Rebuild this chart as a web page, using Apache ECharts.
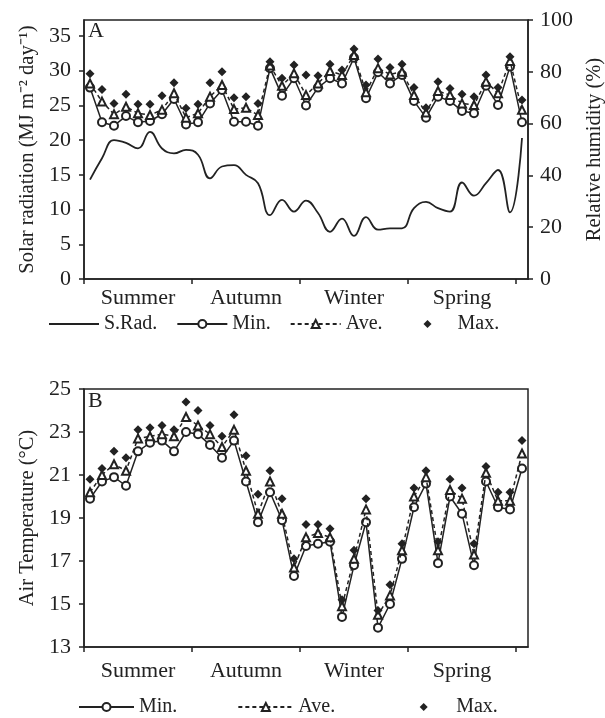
<!DOCTYPE html>
<html lang="en">
<head>
    <meta charset="UTF-8">
    <title>Solar radiation, humidity and air temperature</title>
    <script src="https://cdn.jsdelivr.net/npm/echarts@6/dist/echarts.min.js"></script>
    <style>
        html,
        body {
            margin: 0;
            height: 100%;
            background: #fff;
        }
        #main {
            width: 605px;
            height: 718px;
        }
    </style>
</head>
<body>
    <div id="main"></div>
    <script type="text/javascript">
        const chart = echarts.init(document.getElementById('main'));

        // weekly records, 9 per season + one extra
        const weeks = [1, 2, 3, 4, 5, 6, 7, 8, 9, 10, 11, 12, 13, 14, 15, 16, 17, 18, 19,
            20, 21, 22, 23, 24, 25, 26, 27, 28, 29, 30, 31, 32, 33, 34, 35, 36, 37];
        const seasons = ['Summer', 'Autumn', 'Winter', 'Spring'];
        const seasonLabelAt = [5, 14, 23, 32];
        const seasonTickAt = [0.5, 9.5, 18.5, 27.5, 36.5];
        const solarTicks = [0, 5, 10, 15, 20, 25, 30, 35];

        const solarRad = [14.3, 17.4, 20.0, 19.6, 18.8, 21.2, 18.8, 18.1, 18.6, 17.9, 14.5, 16.2, 16.4,
            15.0, 13.8, 9.2, 11.4, 9.7, 11.3, 9.5, 6.8, 8.7, 6.2, 8.9, 7.1, 7.3, 7.3, 10.2, 11.1,
            10.2, 9.7, 13.9, 12.0, 13.8, 15.7, 9.6, 20.3];
        const rhMin = [73.9, 60.5, 59.2, 62.9, 60.5, 61.0, 63.6, 69.5, 59.7, 60.5, 67.8, 73.0, 60.7,
            60.7, 59.2, 81.4, 70.8, 77.5, 67.0, 73.9, 77.5, 75.5, 85.4, 69.8, 79.8, 75.5, 78.8, 68.7,
            62.3, 70.4, 68.7, 64.9, 64.0, 74.6, 67.2, 82.0, 60.5];
        const rhAve = [75.5, 68.5, 63.6, 66.5, 64.0, 63.3, 65.3, 71.7, 62.3, 64.0, 70.4, 74.9, 65.6,
            66.1, 63.3, 82.4, 74.6, 79.4, 71.0, 75.5, 80.3, 78.8, 86.5, 72.1, 81.4, 79.0, 80.0, 71.0,
            64.3, 72.6, 71.0, 67.8, 67.2, 76.2, 71.7, 84.2, 65.3];
        const rhMax = [79.2, 73.2, 67.8, 71.3, 67.5, 67.5, 70.8, 75.8, 65.9, 67.5, 75.8, 80.0, 70.0,
            70.4, 67.8, 83.9, 77.5, 82.6, 78.8, 78.5, 82.9, 80.7, 88.8, 74.9, 84.9, 81.7, 82.9, 73.9,
            66.1, 76.2, 73.6, 71.3, 70.4, 78.8, 73.9, 85.8, 69.1];

        const tMin = [19.9, 20.7, 20.9, 20.5, 22.1, 22.5, 22.6, 22.1, 23.0, 22.9, 22.4, 21.8, 22.6,
            20.7, 18.8, 20.2, 18.9, 16.3, 17.7, 17.8, 17.9, 14.4, 16.8, 18.8, 13.9, 15.0, 17.1, 19.5,
            20.6, 16.9, 20.0, 19.2, 16.8, 20.7, 19.5, 19.4, 21.3];
        const tAve = [20.2, 21.0, 21.5, 21.2, 22.7, 22.8, 22.9, 22.8, 23.7, 23.3, 22.9, 22.3, 23.1,
            21.2, 19.2, 20.7, 19.2, 16.7, 18.1, 18.3, 18.1, 14.9, 17.1, 19.4, 14.5, 15.4, 17.5, 20.0,
            20.9, 17.5, 20.3, 19.9, 17.3, 21.1, 19.8, 19.8, 22.0];
        const tMax = [20.8, 21.3, 22.1, 21.8, 23.1, 23.2, 23.3, 23.1, 24.4, 24.0, 23.3, 22.8, 23.8,
            21.9, 20.1, 21.2, 19.9, 17.1, 18.7, 18.7, 18.5, 15.2, 17.5, 19.9, 14.7, 15.9, 17.8, 20.4,
            21.2, 17.9, 20.8, 20.4, 17.8, 21.4, 20.2, 20.2, 22.6];

        const INK = '#222';
        const FONT = 'Liberation Serif';
        const pairs = vals => vals.map((v, i) => [weeks[i], v]);

        const axisLine = { show: true, lineStyle: { color: INK, width: 1.5 } };
        const axisTick = { show: true, length: 5, lineStyle: { color: INK, width: 1.5 } };
        const labelStyle = { color: INK, fontFamily: FONT, fontSize: 22 };
        const nameStyle = { fontFamily: FONT, fontSize: 20.5, color: INK };

        const seasonAxis = (gridIndex, margin) => ({
            type: 'value',
            gridIndex: gridIndex,
            min: 0.5,
            max: 37.5,
            splitLine: { show: false },
            axisLine: axisLine,
            axisTick: Object.assign({ customValues: seasonTickAt }, axisTick),
            axisLabel: Object.assign({
                customValues: seasonLabelAt,
                margin: margin,
                formatter: v => seasons[seasonLabelAt.indexOf(v)]
            }, labelStyle)
        });

        const minSeries = (xi, yi, data) => ({
            name: 'Min.', type: 'line', xAxisIndex: xi, yAxisIndex: yi, data: pairs(data),
            symbol: 'emptyCircle', symbolSize: 8, z: 3,
            lineStyle: { color: INK, width: 1.5 },
            itemStyle: { color: INK, borderWidth: 1.5 }
        });
        const aveSeries = (xi, yi, data) => ({
            name: 'Ave.', type: 'line', xAxisIndex: xi, yAxisIndex: yi, data: pairs(data),
            symbol: 'emptyTriangle', symbolSize: 8, z: 4,
            lineStyle: { color: INK, width: 1.5, type: [4, 3] },
            itemStyle: { color: INK, borderWidth: 1.3 }
        });
        const maxSeries = (xi, yi, data) => ({
            name: 'Max.', type: 'line', xAxisIndex: xi, yAxisIndex: yi, data: pairs(data),
            symbol: 'diamond', symbolSize: 9, z: 5,
            lineStyle: { opacity: 0 },
            itemStyle: { color: INK }
        });

        chart.setOption({
            animation: false,
            backgroundColor: '#fff',
            textStyle: { fontFamily: FONT, color: INK },
            graphic: [
                { type: 'text', left: 88, top: 20, style: { text: 'A', fontFamily: FONT, fontSize: 22, fill: INK } },
                { type: 'text', left: 88, top: 390, style: { text: 'B', fontFamily: FONT, fontSize: 22, fill: INK } }
            ],
            legend: [
                {
                    left: 48, top: 314, padding: 0, itemWidth: 50, itemHeight: 10, itemGap: 19,
                    textStyle: { fontFamily: FONT, fontSize: 20, color: INK },
                    data: [{ name: 'S.Rad.', itemStyle: { opacity: 0 } }, 'Min.', 'Ave.', 'Max.']
                },
                {
                    left: 78, top: 697, padding: 0, itemWidth: 55, itemHeight: 10, itemGap: 60,
                    textStyle: { fontFamily: FONT, fontSize: 20, color: INK },
                    data: ['Min.', 'Ave.', 'Max.']
                }
            ],
            grid: [
                {
                    left: 84, right: 77, top: 20, height: 259, outerBoundsMode: 'none',
                    show: true, borderColor: INK, borderWidth: 1.5
                },
                {
                    left: 84, right: 77, top: 389, height: 258, outerBoundsMode: 'none',
                    show: true, borderColor: INK, borderWidth: 1.5
                }
            ],
            xAxis: [seasonAxis(0, 8), seasonAxis(1, 13)],
            yAxis: [
                {
                    type: 'value', gridIndex: 0, min: 0, max: 37.3,
                    name: 'Solar radiation (MJ m\u207B\u00B2 day\u207B\u00B9)',
                    nameLocation: 'middle', nameGap: 42, nameRotate: 90,
                    nameTextStyle: nameStyle,
                    splitLine: { show: false }, axisLine: axisLine,
                    axisTick: Object.assign({ customValues: solarTicks }, axisTick),
                    axisLabel: Object.assign({ customValues: solarTicks, margin: 13 }, labelStyle)
                },
                {
                    type: 'value', gridIndex: 0, position: 'right', min: 0, max: 100, interval: 20,
                    name: 'Relative humidity (%)',
                    nameLocation: 'middle', nameGap: 48, nameRotate: 90,
                    nameTextStyle: nameStyle,
                    splitLine: { show: false }, axisLine: axisLine, axisTick: axisTick,
                    axisLabel: Object.assign({ margin: 12 }, labelStyle)
                },
                {
                    type: 'value', gridIndex: 1, min: 13, max: 25, interval: 2,
                    name: 'Air Temperature (\u00B0C)',
                    nameLocation: 'middle', nameGap: 42, nameRotate: 90,
                    nameTextStyle: nameStyle,
                    splitLine: { show: false }, axisLine: axisLine, axisTick: axisTick,
                    axisLabel: Object.assign({ margin: 13 }, labelStyle)
                }
            ],
            series: [
                {
                    name: 'S.Rad.', type: 'line', xAxisIndex: 0, yAxisIndex: 0, data: pairs(solarRad),
                    smooth: 0.45, showSymbol: false, symbol: 'circle', z: 2,
                    lineStyle: { color: INK, width: 1.8 },
                    itemStyle: { color: INK }
                },
                minSeries(0, 1, rhMin),
                aveSeries(0, 1, rhAve),
                maxSeries(0, 1, rhMax),
                minSeries(1, 2, tMin),
                aveSeries(1, 2, tAve),
                maxSeries(1, 2, tMax)
            ]
        });
    </script>
</body>
</html>
